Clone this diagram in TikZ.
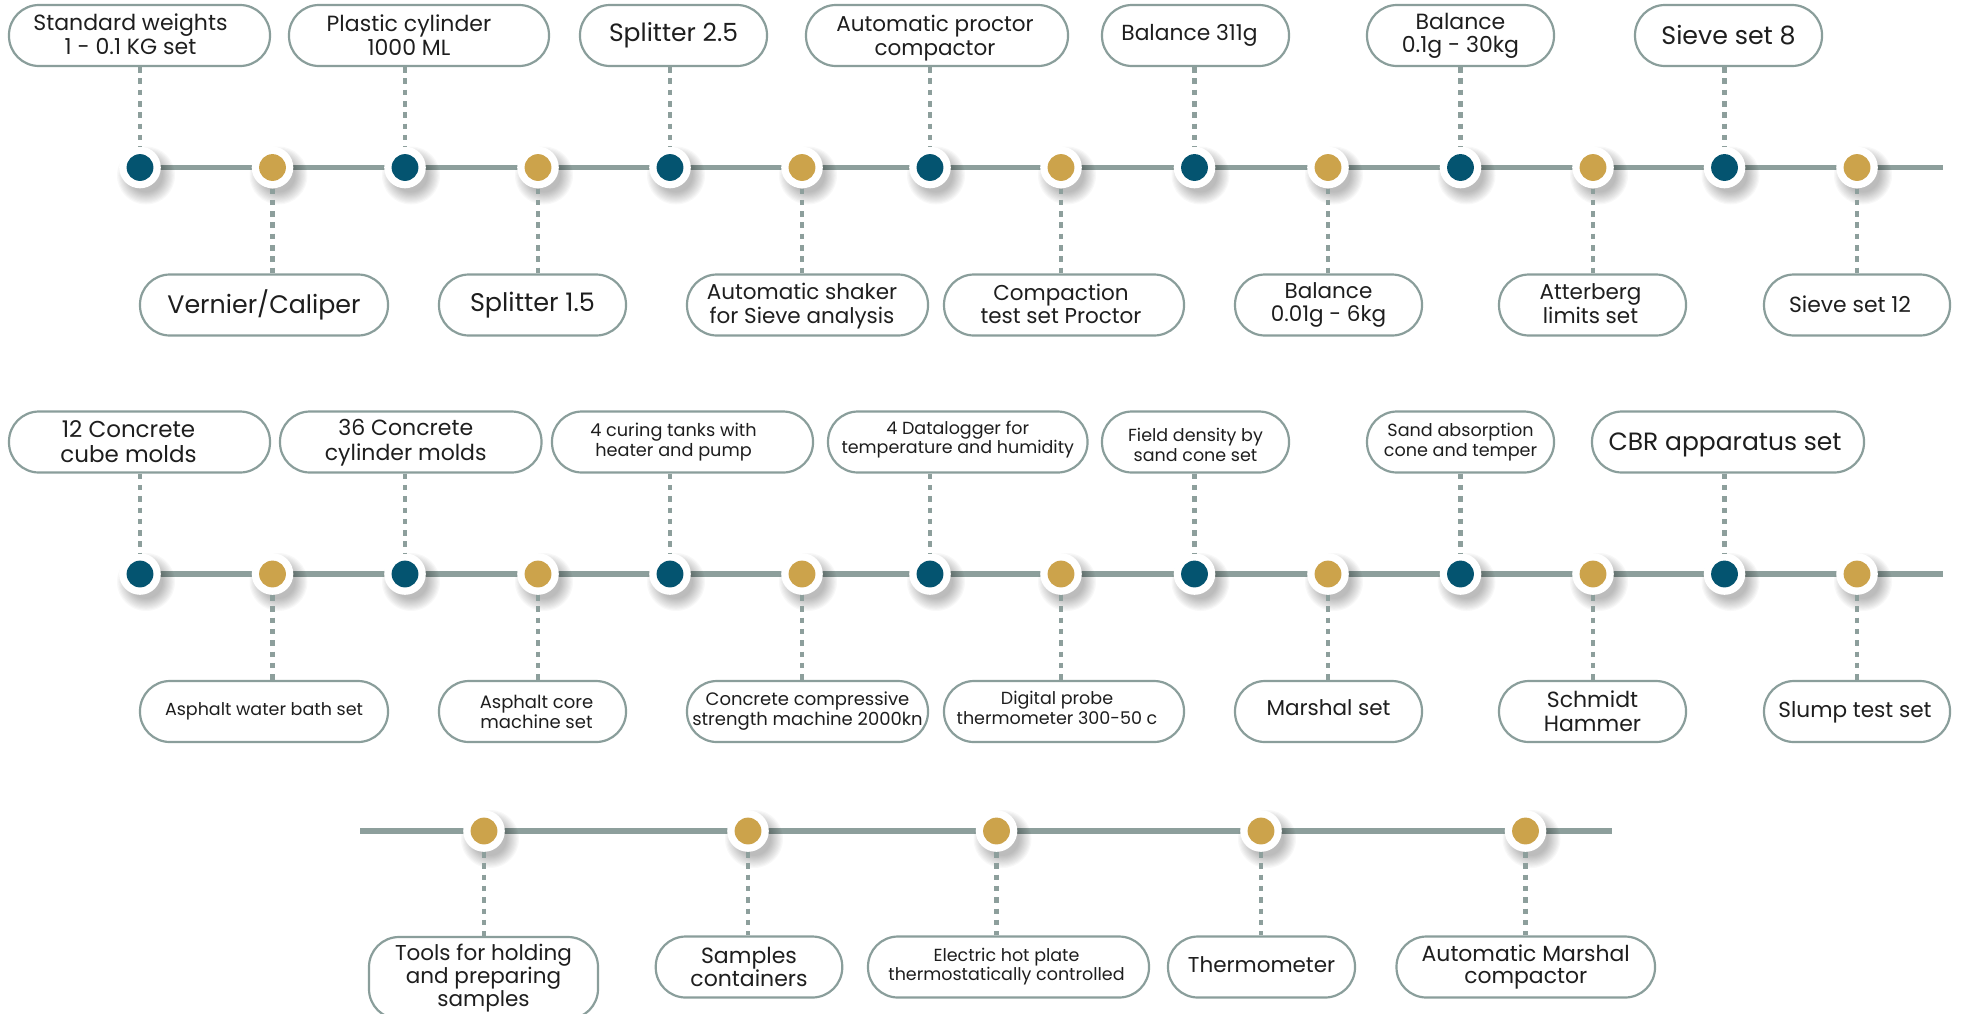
\documentclass[tikz,border=0pt]{standalone}
\usepackage{fontspec}
\setmainfont{Poppins}
\usetikzlibrary{calc}
\definecolor{navy}{HTML}{045470}
\definecolor{gold}{HTML}{CCA34B}
\definecolor{linec}{HTML}{8D9F9C}
\definecolor{boxc}{HTML}{8A9E9B}
\definecolor{txt}{HTML}{1E1E1E}
\newcommand\setfs[2]{\fontsize{#1pt}{#2pt}\selectfont}
% centred text block, moved by #1 pt to the right and #2 pt up inside its box
\newcommand\tsh[3]{\raisebox{#2pt}[\height][\depth]{\hspace*{#1pt}\vbox{\let\\\cr\halign{\hfil##\hfil\cr#3\crcr}}\hspace*{-#1pt}}}
\newcommand\dotshadow[1]{%
  \foreach \k in {0,...,10}{\fill[black,opacity=0.028] ([shift={(6pt,-8pt)}]#1) circle[radius={17pt+\k*1.2pt}];}}
\tikzset{
  lbl/.style={draw=boxc, line width=2.2pt, fill=white, rounded corners=30pt,
    minimum height=61pt, align=center, text=txt, inner sep=0pt},
  tl/.style={draw=linec, line width=5.5pt},
  conn/.style={draw=linec, line width=4.7pt, dash pattern=on 5.5pt off 5.8pt},
  ring/.style={circle, fill=white, minimum size=41.6pt, inner sep=0pt},
  core/.style={circle, fill=#1, minimum size=26.8pt, inner sep=0pt},
}
\begin{document}
\begin{tikzpicture}[x=1pt,y=-1pt]
\useasboundingbox (0,0) rectangle (1961,1013);
\clip (0,0) rectangle (1961,1013);

% ---------- coordinates of the dots ----------
\foreach \i/\x in {1/140,2/272.5,3/405,4/538,5/670,6/802,7/930,8/1061,9/1194.5,10/1328,11/1460.5,12/1593,13/1724.5,14/1857}{
  \coordinate (a\i) at (\x,167.5);
  \coordinate (b\i) at (\x,574);
}
\coordinate (aend) at (1943,167.5);
\coordinate (bend) at (1943,574);
\foreach \i/\x in {1/484,2/748,3/996.5,4/1261,5/1525.5}{\coordinate (c\i) at (\x,831);}
\coordinate (cstart) at (360,831);
\coordinate (cend) at (1612,831);

% ---------- row 1 boxes ----------
\node[lbl, minimum width=261pt, font=\setfs{22}{23.8}] (ta1) at (139.5,35.5) {\tsh{-9}{1.5}{Standard weights\\1 - 0.1 KG set}};
\node[lbl, minimum width=260pt, font=\setfs{22}{23.8}] (ta3) at (419,35.5) {\tsh{-10}{0}{Plastic cylinder\\1000 ML}};
\node[lbl, minimum width=187pt, font=\setfs{25}{27}] (ta5) at (673.5,35.5) {Splitter 2.5};
\node[lbl, minimum width=262pt, font=\setfs{21.5}{23.8}] (ta7) at (937,35.5) {\tsh{-2}{-3}{Automatic proctor\\compactor}};
\node[lbl, minimum width=187pt, font=\setfs{21.8}{23}] (ta9) at (1195.5,35.5) {\tsh{-6}{0}{Balance 311g}};
\node[lbl, minimum width=187pt, font=\setfs{22}{23.3}] (ta11) at (1460.5,35.5) {Balance\\0.1g - 30kg};
\node[lbl, minimum width=187pt, font=\setfs{25.3}{27}] (ta13) at (1728.5,35.5) {Sieve set 8};

\node[lbl, minimum width=248pt, font=\setfs{25.3}{27}] (ba2) at (264,305) {Vernier/Caliper};
\node[lbl, minimum width=187pt, font=\setfs{25.5}{27}] (ba4) at (532.5,305) {Splitter 1.5};
\node[lbl, minimum width=241pt, font=\setfs{21.5}{23.5}] (ba6) at (807.5,305) {\tsh{-5.5}{-1.2}{Automatic shaker\\for Sieve analysis}};
\node[lbl, minimum width=240pt, font=\setfs{21.5}{23.5}] (ba8) at (1064,305) {\tsh{-3}{1.2}{Compaction\\test set Proctor}};
\node[lbl, minimum width=187pt, font=\setfs{21.5}{23.5}] (ba10) at (1328.5,305) {Balance\\0.01g - 6kg};
\node[lbl, minimum width=187pt, font=\setfs{21.5}{23.5}] (ba12) at (1592.5,305) {\tsh{-2}{1.2}{Atterberg\\limits set}};
\node[lbl, minimum width=186pt, font=\setfs{21.9}{23}] (ba14) at (1857,305) {\tsh{-7}{1.2}{Sieve set 12}};

% ---------- row 2 boxes ----------
\node[lbl, minimum width=261pt, font=\setfs{23}{25}] (tb1) at (139.5,442) {\tsh{-11}{0.6}{12 Concrete\\cube molds}};
\node[lbl, minimum width=261.5pt, font=\setfs{22}{25}] (tb3) at (410.75,442) {\tsh{-5}{-1}{36 Concrete\\cylinder molds}};
\node[lbl, minimum width=261pt, font=\setfs{17.7}{20}] (tb5) at (682.5,442) {\tsh{-9}{0}{4 curing tanks with\\heater and pump}};
\node[lbl, minimum width=259.5pt, font=\setfs{17.5}{19.5}] (tb7) at (957.75,442) {\tsh{0}{2.5}{4 Datalogger for\\temperature and humidity}};
\node[lbl, minimum width=187pt, font=\setfs{17.5}{20}] (tb9) at (1195.5,442) {\tsh{0}{-2.5}{Field density by\\sand cone set}};
\node[lbl, minimum width=187pt, font=\setfs{17.6}{20}] (tb11) at (1460.5,442) {Sand absorption\\cone and temper};
\node[lbl, minimum width=272pt, font=\setfs{25}{26}] (tb13) at (1728,442) {\tsh{-3}{-2.5}{CBR apparatus set}};

\node[lbl, minimum width=248pt, font=\setfs{17.5}{20}] (bb2) at (264,711.5) {Asphalt water bath set};
\node[lbl, minimum width=187pt, font=\setfs{18}{20}] (bb4) at (532.5,711.5) {\tsh{4}{0}{Asphalt core\\machine set}};
\node[lbl, minimum width=241pt, font=\setfs{18}{20}] (bb6) at (807.5,711.5) {Concrete compressive\\strength machine 2000kn};
\node[lbl, minimum width=240pt, font=\setfs{17.5}{20}] (bb8) at (1064,711.5) {\tsh{-7}{3.7}{Digital probe\\thermometer 300-50 c}};
\node[lbl, minimum width=187pt, font=\setfs{21.5}{23}] (bb10) at (1328.5,711.5) {\tsh{0}{3.7}{Marshal set}};
\node[lbl, minimum width=187pt, font=\setfs{22}{24}] (bb12) at (1592.5,711.5) {Schmidt\\Hammer};
\node[lbl, minimum width=186pt, font=\setfs{21.6}{23}] (bb14) at (1857,711.5) {\tsh{-2}{-1}{Slump test set}};

% ---------- row 3 boxes ----------
\node[lbl, minimum width=229pt, minimum height=82pt, font=\setfs{21.5}{23}] (bc1) at (483.5,978) {Tools for holding\\and preparing\\samples};
\node[lbl, minimum width=186.5pt, font=\setfs{22}{21.7}] (bc2) at (749,967) {Samples\\containers};
\node[lbl, minimum width=281pt, font=\setfs{17.5}{19}] (bc3) at (1008.5,967) {\tsh{-2}{0}{Electric hot plate\\thermostatically controlled}};
\node[lbl, minimum width=187pt, font=\setfs{21.5}{23}] (bc4) at (1261.5,967) {\tsh{0}{2.5}{Thermometer}};
\node[lbl, minimum width=258.5pt, font=\setfs{21.9}{22}] (bc5) at (1525.75,967) {Automatic Marshal\\compactor};

% ---------- timelines ----------
\draw[tl] (a1) -- (aend);
\draw[tl] (b1) -- (bend);
\draw[tl] (cstart) -- (cend);

% ---------- shadows ----------
\foreach \i in {1,...,14}{\dotshadow{a\i}\dotshadow{b\i}}
\foreach \i in {1,...,5}{\dotshadow{c\i}}

% ---------- dots ----------
\foreach \i in {1,3,5,7,9,11,13}{
  \node[ring] (ra\i) at (a\i) {}; \node[core=navy] (da\i) at (a\i) {};
  \node[ring] (rb\i) at (b\i) {}; \node[core=navy] (db\i) at (b\i) {};
}
\foreach \i in {2,4,6,8,10,12,14}{
  \node[ring] (ra\i) at (a\i) {}; \node[core=gold] (da\i) at (a\i) {};
  \node[ring] (rb\i) at (b\i) {}; \node[core=gold] (db\i) at (b\i) {};
}
\foreach \i in {1,...,5}{\node[ring] (rc\i) at (c\i) {}; \node[core=gold] (dc\i) at (c\i) {};}

% ---------- connectors ----------
\foreach \i in {1,3,5,7,9,11,13}{
  \draw[conn] (ra\i |- ta\i.south) -- (ra\i.north);
  \draw[conn] (rb\i |- tb\i.south) -- (rb\i.north);
}
\foreach \i in {2,4,6,8,10,12,14}{
  \draw[conn] (ra\i.south) -- (ra\i |- ba\i.north);
  \draw[conn] (rb\i.south) -- (rb\i |- bb\i.north);
}
\foreach \i in {1,...,5}{\draw[conn] (rc\i.south) -- (rc\i |- bc\i.north);}
\end{tikzpicture}
\end{document}
